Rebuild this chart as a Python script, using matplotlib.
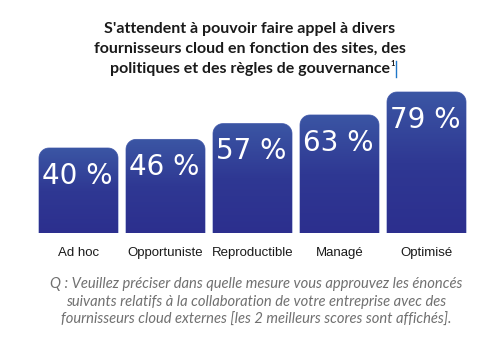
import numpy as np
import matplotlib
matplotlib.use("Agg")
import matplotlib.pyplot as plt
from matplotlib.path import Path
from matplotlib.patches import PathPatch
from matplotlib.colors import LinearSegmentedColormap

categories = ["Ad hoc", "Opportuniste", "Reproductible", "Managé", "Optimisé"]
values = [40, 46, 57, 63, 79]
value_labels = ["40 %", "46 %", "57 %", "63 %", "79 %"]

title_lines = ["S'attendent à pouvoir faire appel à divers",
               "fournisseurs cloud en fonction des sites, des",
               "politiques et des règles de gouvernance"]
footnote_lines = ["Q : Veuillez préciser dans quelle mesure vous approuvez les énoncés",
                  "suivants relatifs à la collaboration de votre entreprise avec des",
                  "fournisseurs cloud externes [les 2 meilleurs scores sont affichés]."]

W, H = 498, 359
fig = plt.figure(figsize=(W / 100, H / 100), dpi=100)
fig.patch.set_facecolor("white")

base = -19.2
ax = fig.add_axes([35 / W, (H - 233) / H, 435 / W, 149.6 / H])
ax.set_xlim(-0.5, 4.5)
ax.set_ylim(base, 85)
ax.axis("off")

cmap = LinearSegmentedColormap.from_list("g", ["#2c2f8e", "#2f3893", "#3b56a4"])
bw = 0.908
rx = 10 / 87.0
ry = 10 / 1.436
grad = np.linspace(0, 1, 256).reshape(-1, 1)

for i, v in enumerate(values):
    x0, x1 = i - bw / 2, i + bw / 2
    y0, y1 = base, v
    t = np.linspace(0, np.pi / 2, 12)
    pts = [(x0, y0), (x1, y0)]
    cx, cy = x1 - rx, y1 - ry
    pts += [(cx + rx * np.cos(a), cy + ry * np.sin(a)) for a in t]
    cx, cy = x0 + rx, y1 - ry
    pts += [(cx + rx * np.cos(a), cy + ry * np.sin(a)) for a in t + np.pi / 2]
    pts.append((x0, y0))
    path = Path(pts, closed=True)
    patch = PathPatch(path, facecolor="none", edgecolor="#5a6cb8", lw=0.6)
    ax.add_patch(patch)
    im = ax.imshow(grad, cmap=cmap, extent=[x0, x1, y0, y1], origin="lower",
                   aspect="auto", interpolation="bilinear", zorder=1)
    im.set_clip_path(patch)
    ax.text(i - 0.01, v - 9.5, value_labels[i], color="white", ha="center", va="top",
            fontsize=20, family="DejaVu Sans", zorder=3)
    ax.text(i, base - 14, categories[i], color="#1a1a1a", ha="center", va="center",
            fontsize=9.5, family="Liberation Sans")

ax.set_xlim(-0.5, 4.5)
ax.set_ylim(base, 85)

title_texts = []
for k, line in enumerate(title_lines):
    tt = fig.text(250 / W, 1 - (29 + 20 * k) / H, line, ha="center", va="center",
                  fontsize=11.5, fontweight="bold", family="Lato", color="#1a1a1a")
    title_texts.append(tt)

fig.canvas.draw()
bb = title_texts[-1].get_window_extent()
xr = bb.x1 / W
fig.text(xr + 1 / W, 1 - 64 / H, "1", fontsize=5.5, fontweight="bold", family="Lato",
         color="#1a1a1a", ha="left", va="center")
xl = xr + 6 / W
fig.add_artist(plt.Line2D([xl, xl], [1 - 61 / H, 1 - 77 / H], color="#1f77c8", lw=1.0))

for k, line in enumerate(footnote_lines):
    fig.text(256 / W, 1 - (284 + 18 * k) / H, line, ha="center", va="center",
             fontsize=10.6, style="italic", family="Lato", color="#707070")

fig.savefig("out.png", dpi=100, facecolor="white")
